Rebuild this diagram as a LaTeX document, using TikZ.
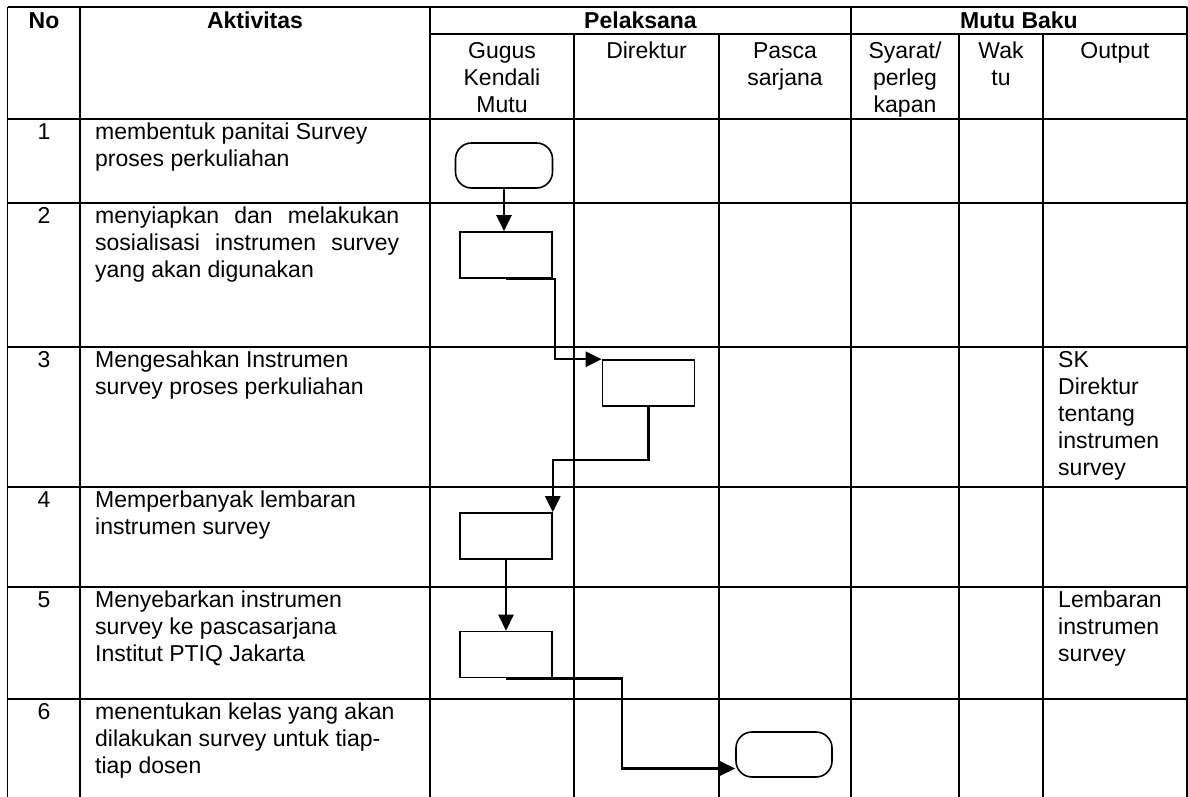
\documentclass[tikz,border=0pt]{standalone}
\usepackage{fontspec}
\setmainfont{Liberation Sans}
\usetikzlibrary{arrows.meta}
\newcommand\st{\rule[-7pt]{0pt}{27pt}}
\begin{document}
\begin{tikzpicture}[x=1pt,y=-1pt,
  font=\fontsize{23}{27}\selectfont,
  gridline/.style={line width=1.4pt},
  cell/.style={inner sep=0pt, anchor=north west, align=left},
  hcell/.style={inner sep=0pt, anchor=north, align=center},
  hbold/.style={hcell, font=\fontsize{23}{27}\selectfont\bfseries},
  proc/.style={draw, line width=1.6pt, minimum width=92pt, minimum height=46pt, inner sep=0pt},
  term/.style={draw, line width=1.6pt, rounded corners=16pt, minimum width=97pt, minimum height=45pt, inner sep=0pt},
  flow/.style={line width=2.4pt, -{Triangle[length=16pt,width=15pt]}}]
\useasboundingbox (0,0) rectangle (1188,797);
% table grid
\foreach \y in {7,119,203,347,487,587,699}
  \draw[gridline] (7.5,\y) -- (1187,\y);
\draw[gridline] (430,34) -- (1187,34);
\foreach \x in {7.5,80,430,851,1187}
  \draw[gridline] (\x,7) -- (\x,797);
\foreach \x in {574,719,959,1043}
  \draw[gridline] (\x,34) -- (\x,797);
% header
\node[hbold] (hno) at (44,8) {\st No};
\node[hbold] (hakt) at (255,8) {\st Aktivitas};
\node[hbold] (hpel) at (640.5,8) {\st Pelaksana};
\node[hbold] (hmutu) at (1019,8) {\st Mutu Baku};
\node[hcell] (hgugus) at (502,38) {\st Gugus\\Kendali\\Mutu};
\node[hcell] (hdir) at (646.5,38) {\st Direktur};
\node[hcell] (hpasca) at (785,38) {\st Pasca\\sarjana};
\node[hcell] (hsyarat) at (905,38) {\st Syarat/\\perleg\\kapan};
\node[hcell] (hwaktu) at (1001,38) {\st Wak\\tu};
\node[hcell] (hout) at (1115,38) {\st Output};
% row numbers
\node[hcell] (n1) at (44,119) {\st 1};
\node[hcell] (n2) at (44,203) {\st 2};
\node[hcell] (n3) at (44,347) {\st 3};
\node[hcell] (n4) at (44,487) {\st 4};
\node[hcell] (n5) at (44,587) {\st 5};
\node[hcell] (n6) at (44,699) {\st 6};
% activities
\node[cell] (a1) at (95,119) {\st membentuk panitai Survey\\proses perkuliahan};
\node[cell] (a2) at (95,203) {\st\makebox[304pt][s]{menyiapkan dan melakukan}\\\makebox[304pt][s]{sosialisasi instrumen survey}\\yang akan digunakan};
\node[cell] (a3) at (95,347) {\st Mengesahkan Instrumen\\survey proses perkuliahan};
\node[cell] (a4) at (95,487) {\st Memperbanyak lembaran\\instrumen survey};
\node[cell] (a5) at (95,587) {\st Menyebarkan instrumen\\survey ke pascasarjana\\Institut PTIQ Jakarta};
\node[cell] (a6) at (95,699) {\st menentukan kelas yang akan\\dilakukan survey untuk tiap-\\tiap dosen};
% outputs
\node[cell] (o3) at (1058,347) {\st SK\\Direktur\\tentang\\instrumen\\survey};
\node[cell] (o5) at (1058,587) {\st Lembaran\\instrumen\\survey};
% flow shapes
\node[term] (t1) at (504,165.5) {};
\node[proc] (b2) at (506,255) {};
\node[proc] (b3) at (648.5,383) {};
\node[proc] (b4) at (506,536) {};
\node[proc] (b5) at (506,654.5) {};
\node[term, minimum width=96pt] (t6) at (784,754.5) {};
% connectors
\draw[flow] (t1.south) -- (t1.south |- b2.north);
\draw[flow] (b2.south) -- ++(49,0) |- (b3.north west);
\draw[flow] (b3.south) -- ++(0,53) -| (b4.north east);
\draw[flow] (b4.south) -- (b5.north);
\draw[flow] (b5.south) -- ++(116,0) |- (t6.196);
\end{tikzpicture}
\end{document}
